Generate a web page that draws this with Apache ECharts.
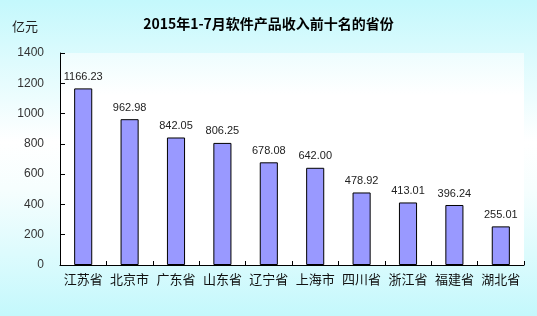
<!DOCTYPE html>
<html><head><meta charset="utf-8">
<script src="https://cdn.jsdelivr.net/npm/echarts@6/dist/echarts.min.js"></script>
<style>html,body{margin:0;padding:0;}#c{width:537px;height:316px;}</style>
</head><body><div id="c"></div>
<script>
const categories = ['江苏省','北京市','广东省','山东省','辽宁省','上海市','四川省','浙江省','福建省','湖北省'];
const values = [1166.23, 962.98, 842.05, 806.25, 678.08, 642.00, 478.92, 413.01, 396.24, 255.01];
const yTicks = [0, 200, 400, 600, 800, 1000, 1200, 1400];
const titleText = '2015年1-7月软件产品收入前十名的省份';
const unitText = '亿元';

const chart = echarts.init(document.getElementById('c'), null, {renderer: 'canvas'});
chart.setOption({
  animation: false,
  backgroundColor: new echarts.graphic.LinearGradient(0, 0, 0, 1, [
    {offset: 0, color: '#c4f8fc'},
    {offset: 0.45, color: '#ffffff'},
    {offset: 0.6, color: '#f6fefe'},
    {offset: 1, color: '#c4f8fc'}
  ]),
  title: {
    text: titleText, left: 'center', top: 12,
    textStyle: {fontSize: 14, fontWeight: 'bold', color: '#000', fontFamily: 'Noto Sans CJK SC'}
  },
  graphic: [{
    type: 'text', left: 12, top: 20,
    style: {text: unitText, fontSize: 13, fill: '#222', fontFamily: 'Noto Sans CJK SC'}
  }],
  grid: {
    left: 60, right: 13, top: 53, bottom: 51, show: true, borderWidth: 0,
    backgroundColor: new echarts.graphic.LinearGradient(0, 0, 0, 1, [
      {offset: 0, color: '#eefdfe'},
      {offset: 0.2, color: '#ffffff'},
      {offset: 1, color: '#ffffff'}
    ])
  },
  xAxis: {
    type: 'category', data: categories,
    axisLine: {lineStyle: {color: '#000', width: 1}},
    axisTick: {show: true, inside: true, length: 4, alignWithLabel: false, lineStyle: {color: '#000'}},
    axisLabel: {fontSize: 13, color: '#111', margin: 8, fontFamily: 'Noto Sans CJK SC', interval: 0}
  },
  yAxis: {
    type: 'value', min: yTicks[0], max: yTicks[yTicks.length - 1], interval: 200,
    axisLine: {show: true, lineStyle: {color: '#000', width: 1}},
    axisTick: {show: true, inside: true, length: 5, lineStyle: {color: '#000'}},
    splitLine: {show: false},
    axisLabel: {fontSize: 12, color: '#333', margin: 16, fontFamily: 'Liberation Sans',
      formatter: v => String(v)}
  },
  series: [{
    type: 'bar', data: values, barWidth: '39%',
    itemStyle: {color: '#9999ff', borderColor: '#000', borderWidth: 1},
    label: {
      show: true, position: 'top', distance: 6, fontSize: 11, color: '#222',
      fontFamily: 'Liberation Sans',
      formatter: p => p.value.toFixed(2)
    }
  }]
});
</script></body></html>
